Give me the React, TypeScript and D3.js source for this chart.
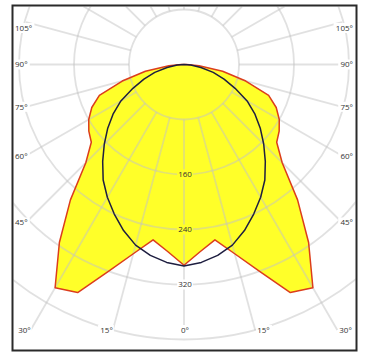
import React from "react";
import * as d3 from "d3";

const WIDTH = 366;
const HEIGHT = 363;

// Photometric intensities (cd/klm), per plane, gamma 0..90°
const planeAngles = [0, 5, 10, 15, 20, 25, 30, 35, 40, 45, 50, 55, 60, 65, 70, 75, 80, 85, 90];
const c0c180Values = [292, 273, 259, 285, 320, 366, 375, 316, 257, 202, 176, 169, 160, 148, 131, 93, 57, 22, 4];
const c90c270Values = [293, 289, 282, 272, 257, 240, 223, 205, 184, 164, 145, 126, 106, 82, 62, 44, 25, 10, 0];

const ringValues = [80, 160, 240, 320, 400];
const ringLabelValues = [160, 240, 320];
const gridAngles = [0, 15, 30, 45, 60, 75, 90, 105, 120, 135, 150, 165, 180];
const angleLabelValues = [0, 15, 30, 45, 60, 75, 90, 105];

const FILL = "#ffff29";
const RED = "#dc3d1c";
const DARK = "#1e1e40";
const FONT = "'Open Sans', 'DejaVu Sans', sans-serif";

type P = { a: number; v: number };

export default function App() {
  const cx = 184;
  const cy = 64.5;
  const r = d3.scaleLinear().domain([0, 80]).range([0, 55]);
  const frame = { x0: 12.5, y0: 5.5, x1: 356.5, y1: 350.5 };
  const box = { x0: 26, x1: 342, y0: 6.5, y1: 330 };
  const toRad = (d: number) => (d * Math.PI) / 180;

  const buildCurve = (vals: number[]): P[] => {
    const left = planeAngles.map((a, i) => ({ a: Math.PI + toRad(a), v: vals[i] })).reverse();
    const right = planeAngles.slice(1).map((a, i) => ({ a: Math.PI - toRad(a), v: vals[i + 1] }));
    return [...left, ...right];
  };
  const radial = d3
    .lineRadial<P>()
    .angle((d) => d.a)
    .radius((d) => r(d.v))
    .curve(d3.curveLinearClosed);

  const redCurve = buildCurve(c0c180Values);
  const darkCurve = buildCurve(c90c270Values);
  const redPoly: [number, number][] = redCurve.map((d) => [
    cx + r(d.v) * Math.sin(d.a),
    cy - r(d.v) * Math.cos(d.a),
  ]);

  const rayEnd = (deg: number, side: number) => {
    const dx = side * Math.sin(toRad(deg));
    const dy = Math.cos(toRad(deg));
    let t = Infinity;
    let edge = "";
    const test = (tt: number, e: string) => {
      if (tt > 0 && tt < t) {
        t = tt;
        edge = e;
      }
    };
    if (dx > 1e-9) test((box.x1 - cx) / dx, "right");
    if (dx < -1e-9) test((box.x0 - cx) / dx, "left");
    if (dy > 1e-9) test((box.y1 - cy) / dy, "bottom");
    if (dy < -1e-9) test((box.y0 - cy) / dy, "top");
    return { x: cx + dx * t, y: cy + dy * t, dx, dy, t, edge };
  };

  const radialLines: { x1: number; y1: number; x2: number; y2: number; key: string }[] = [];
  gridAngles.forEach((g) => {
    const sides = g === 0 || g === 180 ? [1] : [-1, 1];
    sides.forEach((s) => {
      const e = rayEnd(g, s);
      const r0 = r(80);
      if (e.t <= r0) return;
      radialLines.push({
        x1: cx + e.dx * r0,
        y1: cy + e.dy * r0,
        x2: e.x,
        y2: e.y,
        key: `${g}_${s}`,
      });
    });
  });

  const angleLabels: { x: number; y: number; anchor: string; text: string; key: string }[] = [];
  angleLabelValues.forEach((g) => {
    const sides = g === 0 ? [1] : [-1, 1];
    sides.forEach((s) => {
      const e = rayEnd(g, s);
      const text = `${g}°`;
      if (e.edge === "bottom") {
        if (g === 0) angleLabels.push({ x: e.x + 1, y: 330, anchor: "middle", text, key: `l${g}${s}` });
        else if (s < 0) angleLabels.push({ x: e.x, y: 330, anchor: "end", text, key: `l${g}${s}` });
        else angleLabels.push({ x: e.x + 2, y: 330, anchor: "start", text, key: `l${g}${s}` });
      } else {
        const y = Math.max(e.y, 28);
        if (s < 0) angleLabels.push({ x: 15, y, anchor: "start", text, key: `l${g}${s}` });
        else angleLabels.push({ x: 353, y, anchor: "end", text, key: `l${g}${s}` });
      }
    });
  });

  const textWidth = (t: string) => t.length * 4.6;
  const bgRect = (x: number, y: number, anchor: string, t: string) => {
    const w = textWidth(t) + 2;
    const left = anchor === "start" ? x - 1 : anchor === "end" ? x - w + 1 : x - w / 2;
    return { x: left, y: y - 5, w, h: 10 };
  };

  return (
    <svg
      width={WIDTH}
      height={HEIGHT}
      style={{ position: "fixed", left: 0, top: 0, background: "#fff" }}
    >
      <defs>
        <clipPath id="plotClip">
          <rect x={frame.x0 + 1} y={frame.y0 + 1} width={frame.x1 - frame.x0 - 2} height={frame.y1 - frame.y0 - 2} />
        </clipPath>
      </defs>
      <rect x={0} y={0} width={WIDTH} height={HEIGHT} fill="#fff" />

      <g transform={`translate(${cx},${cy})`}>
        <path d={radial(redCurve) || ""} fill={FILL} stroke="none" />
      </g>

      <g clipPath="url(#plotClip)" stroke="#c4c4c4" strokeOpacity={0.5} strokeWidth={1.8} fill="none">
        {ringValues.map((v) => (
          <circle key={v} cx={cx} cy={cy} r={r(v)} />
        ))}
        {radialLines.map((l) => (
          <line key={l.key} x1={l.x1} y1={l.y1} x2={l.x2} y2={l.y2} />
        ))}
      </g>

      <g fontFamily={FONT} fontSize={8} fill="#333">
        {ringLabelValues.map((v) => {
          const y = cy + r(v);
          const t = String(v);
          const b = bgRect(cx + 1, y, "middle", t);
          const inside = d3.polygonContains(redPoly, [cx, y]);
          return (
            <g key={v}>
              <rect x={b.x} y={b.y} width={b.w} height={b.h} fill={inside ? FILL : "#fff"} />
              <text x={cx + 1} y={y} dy="0.35em" textAnchor="middle">
                {t}
              </text>
            </g>
          );
        })}
        {angleLabels.map((l) => {
          const b = bgRect(l.x, l.y, l.anchor, l.text);
          return (
            <g key={l.key}>
              <rect x={b.x} y={b.y} width={b.w} height={b.h} fill="#fff" />
              <text x={l.x} y={l.y} dy="0.35em" textAnchor={l.anchor as any}>
                {l.text}
              </text>
            </g>
          );
        })}
      </g>

      <g transform={`translate(${cx},${cy})`} fill="none" strokeLinejoin="round">
        <path d={radial(redCurve) || ""} stroke={RED} strokeWidth={1.5} />
        <path d={radial(darkCurve) || ""} stroke={DARK} strokeWidth={1.5} />
      </g>

      <rect
        x={frame.x0}
        y={frame.y0}
        width={frame.x1 - frame.x0}
        height={frame.y1 - frame.y0}
        fill="none"
        stroke="#2a2a2a"
        strokeWidth={2}
      />
    </svg>
  );
}
